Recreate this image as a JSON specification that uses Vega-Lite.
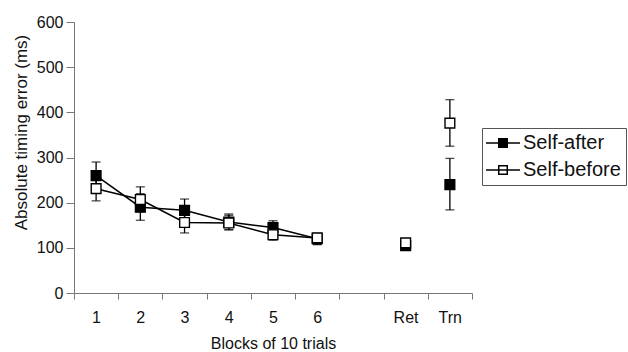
{
  "$schema": "https://vega.github.io/schema/vega-lite/v6.json",
  "width": 398,
  "height": 271,
  "autosize": {"type": "none"},
  "padding": {"left": 74, "top": 22, "right": 156, "bottom": 59},
  "background": "white",
  "config": {
    "font": "Liberation Sans",
    "view": {"stroke": null}
  },
  "data": {
    "values": [
      {"block": 1, "series": "Self-after", "mean": 260, "lo": 230, "hi": 290},
      {"block": 2, "series": "Self-after", "mean": 190, "lo": 161, "hi": 220},
      {"block": 3, "series": "Self-after", "mean": 183, "lo": 160, "hi": 208},
      {"block": 4, "series": "Self-after", "mean": 157, "lo": 140, "hi": 175},
      {"block": 5, "series": "Self-after", "mean": 145, "lo": 132, "hi": 160},
      {"block": 6, "series": "Self-after", "mean": 120, "lo": 108, "hi": 130},
      {"block": 8, "series": "Self-after", "mean": 105, "lo": 100, "hi": 112},
      {"block": 9, "series": "Self-after", "mean": 240, "lo": 184, "hi": 298},
      {"block": 1, "series": "Self-before", "mean": 231, "lo": 204, "hi": 258},
      {"block": 2, "series": "Self-before", "mean": 207, "lo": 180, "hi": 235},
      {"block": 3, "series": "Self-before", "mean": 156, "lo": 133, "hi": 180},
      {"block": 4, "series": "Self-before", "mean": 155, "lo": 140, "hi": 172},
      {"block": 5, "series": "Self-before", "mean": 129, "lo": 117, "hi": 142},
      {"block": 6, "series": "Self-before", "mean": 122, "lo": 107, "hi": 132},
      {"block": 8, "series": "Self-before", "mean": 111, "lo": 104, "hi": 118},
      {"block": 9, "series": "Self-before", "mean": 376, "lo": 325, "hi": 428}
    ]
  },
  "encoding": {
    "x": {
      "field": "block",
      "type": "quantitative",
      "scale": {"domain": [0.5, 9.5], "nice": false, "zero": false},
      "axis": {
        "title": "Blocks of 10 trials",
        "titleFontSize": 16,
        "titleFontWeight": "normal",
        "titleColor": "#111",
        "titlePadding": 10,
        "values": [0.5, 1.5, 2.5, 3.5, 4.5, 5.5, 6.5, 7.5, 8.5, 9.5],
        "labelExpr": "datum.value == 0.5 ? '1' : datum.value == 1.5 ? '2' : datum.value == 2.5 ? '3' : datum.value == 3.5 ? '4' : datum.value == 4.5 ? '5' : datum.value == 5.5 ? '6' : datum.value == 7.5 ? 'Ret' : datum.value == 8.5 ? 'Trn' : ''",
        "labelOffset": 22,
        "labelFontSize": 16,
        "labelColor": "#111",
        "labelPadding": 10,
        "labelFlush": false,
        "labelOverlap": false,
        "grid": false,
        "domainColor": "#777",
        "tickColor": "#777",
        "tickSize": 6
      }
    }
  },
  "layer": [
    {
      "transform": [{"filter": "datum.block <= 6"}],
      "mark": {"type": "line", "color": "black", "strokeWidth": 1.5},
      "encoding": {
        "y": {"field": "mean", "type": "quantitative"},
        "detail": {"field": "series"}
      }
    },
    {
      "mark": {"type": "rule", "color": "black", "strokeWidth": 1.3},
      "encoding": {
        "y": {"field": "lo", "type": "quantitative"},
        "y2": {"field": "hi"}
      }
    },
    {
      "mark": {"type": "tick", "orient": "horizontal", "color": "black", "size": 9, "thickness": 1.3},
      "encoding": {"y": {"field": "lo", "type": "quantitative"}}
    },
    {
      "mark": {"type": "tick", "orient": "horizontal", "color": "black", "size": 9, "thickness": 1.3},
      "encoding": {"y": {"field": "hi", "type": "quantitative"}}
    },
    {
      "mark": {"type": "point", "shape": "square", "size": 95, "stroke": "black", "strokeWidth": 1.4, "opacity": 1, "filled": true},
      "encoding": {
        "y": {
          "field": "mean",
          "type": "quantitative",
          "scale": {"domain": [0, 600]},
          "axis": {
            "title": "Absolute timing error (ms)",
            "titleFontSize": 17,
            "titleFontWeight": "normal",
            "titleColor": "#111",
            "titleX": -53,
            "titleY": 110,
            "titleAngle": -90,
            "titleAlign": "center",
            "titleBaseline": "middle",
            "values": [0, 100, 200, 300, 400, 500, 600],
            "labelFontSize": 16,
            "labelColor": "#111",
            "labelPadding": 3,
            "grid": false,
            "domainColor": "#777",
            "tickColor": "#777",
            "tickSize": 8
          }
        },
        "fill": {
          "field": "series",
          "type": "nominal",
          "scale": {"domain": ["Self-after", "Self-before"], "range": ["black", "white"]},
          "legend": {
            "title": null,
            "orient": "none",
            "legendX": 408,
            "legendY": 106,
            "symbolType": "M-2,0H2M-0.5,-0.5H0.5V0.5H-0.5Z",
            "symbolSize": 289,
            "symbolStrokeColor": "black",
            "symbolStrokeWidth": 1.5,
            "symbolOffset": 6,
            "labelFontSize": 20,
            "labelColor": "#111",
            "labelOffset": 10,
            "rowPadding": 7,
            "padding": 5,
            "strokeColor": "#555",
            "fillColor": "white"
          }
        }
      }
    }
  ]
}
